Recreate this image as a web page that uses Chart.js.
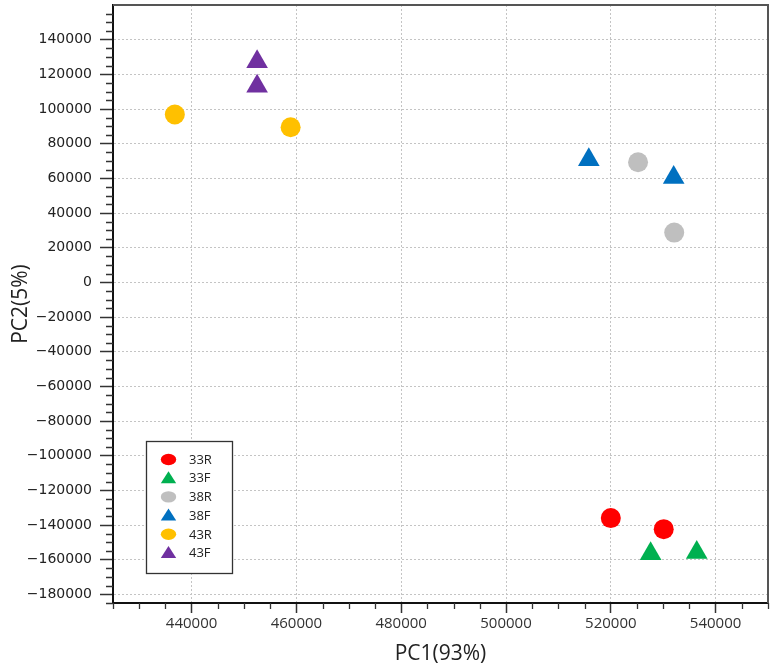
<!DOCTYPE html>
<html><head><meta charset="utf-8">
<script src="https://cdn.jsdelivr.net/npm/chart.js@4/dist/chart.umd.min.js"></script>
<style>html,body{margin:0;padding:0;background:#fff}#wrap{width:773px;height:669px}</style>
</head><body><div id="wrap"><canvas id="c" width="773" height="669"></canvas></div>
<script>
// ---- data ----
const seriesNames  = ['33R', '33F', '38R', '38F', '43R', '43F'];
const seriesColors = ['#ff0000', '#00b050', '#bfbfbf', '#0070c0', '#ffc000', '#7030a0'];
const seriesShapes = ['circle', 'triangle', 'circle', 'triangle', 'circle', 'triangle'];

const pc1_33R = [520000, 530100];
const pc2_33R = [-136000, -142400];
const pc1_33F = [527600, 536400];
const pc2_33F = [-156600, -155900];
const pc1_38R = [525200, 532100];
const pc2_38R = [69300, 28700];
const pc1_38F = [515800, 532000];
const pc2_38F = [70700, 60500];
const pc1_43R = [436800, 458900];
const pc2_43R = [96800, 89500];
const pc1_43F = [452500, 452500];
const pc2_43F = [127300, 113100];

const pc1Values = [pc1_33R, pc1_33F, pc1_38R, pc1_38F, pc1_43R, pc1_43F];
const pc2Values = [pc2_33R, pc2_33F, pc2_38R, pc2_38F, pc2_43R, pc2_43F];

const xTickValues = [440000, 460000, 480000, 500000, 520000, 540000];
const yTickValues = [140000, 120000, 100000, 80000, 60000, 40000, 20000, 0, -20000, -40000, -60000,
                     -80000, -100000, -120000, -140000, -160000, -180000];
const xRange = [425000, 550000];
const yRange = [-185000, 160000];
const minorStep = 5000;
const xTitle = 'PC1(93%)';
const yTitle = 'PC2(5%)';

// ---- chart ----
const fmt = v => v < 0 ? '\u2212' + Math.abs(v) : String(v);

const datasets = seriesNames.map((name, i) => ({
  label: name,
  data: pc1Values[i].map((x, j) => ({x: x, y: pc2Values[i][j]})),
  backgroundColor: seriesColors[i],
  borderWidth: 0,
  pointStyle: seriesShapes[i],
  pointRadius: seriesShapes[i] === 'triangle' ? 12.5 : 10,
  pointHoverRadius: seriesShapes[i] === 'triangle' ? 12.5 : 10
}));

const decorPlugin = {
  id: 'decor',
  afterDraw(chart) {
    const {ctx, chartArea: a, scales: {x, y}} = chart;
    ctx.save();
    // minor ticks
    ctx.strokeStyle = '#333';
    ctx.lineWidth = 1.3;
    ctx.beginPath();
    for (let v = Math.ceil(xRange[0] / minorStep) * minorStep; v <= xRange[1]; v += minorStep) {
      if (v % 20000 === 0) continue;
      const px = Math.round(x.getPixelForValue(v)) + 0.5;
      ctx.moveTo(px, a.bottom); ctx.lineTo(px, a.bottom + 6);
    }
    for (let v = Math.ceil(yRange[0] / minorStep) * minorStep; v <= yRange[1]; v += minorStep) {
      if (v % 20000 === 0) continue;
      const py = Math.round(y.getPixelForValue(v)) + 0.5;
      ctx.moveTo(a.left - 7, py); ctx.lineTo(a.left, py);
    }
    ctx.stroke();
    // top & right frame
    ctx.strokeStyle = '#555';
    ctx.lineWidth = 2;
    ctx.beginPath();
    ctx.moveTo(a.left, a.top); ctx.lineTo(a.right, a.top); ctx.lineTo(a.right, a.bottom);
    ctx.stroke();
    // legend
    const bx = a.left + 33, by = a.bottom - 162, bw = 86, bh = 132;
    ctx.fillStyle = '#fff';
    ctx.fillRect(bx, by, bw, bh);
    ctx.strokeStyle = '#333';
    ctx.lineWidth = 1.3;
    ctx.strokeRect(bx + 0.5, by + 0.5, bw, bh);
    ctx.font = '13px "Open Sans"';
    ctx.textBaseline = 'middle';
    ctx.textAlign = 'left';
    chart.data.datasets.forEach((ds, i) => {
      const cy = by + 18.5 + i * 18.7;
      const cx = bx + 22.5;
      ctx.fillStyle = ds.backgroundColor;
      ctx.beginPath();
      if (ds.pointStyle === 'triangle') {
        ctx.moveTo(cx, cy - 7); ctx.lineTo(cx + 7.7, cy + 5); ctx.lineTo(cx - 7.7, cy + 5); ctx.closePath();
      } else {
        ctx.ellipse(cx, cy, 7.7, 5.7, 0, 0, Math.PI * 2);
      }
      ctx.fill();
      ctx.fillStyle = '#222';
      ctx.fillText(ds.label, bx + 43, cy + 0.5);
    });
    ctx.restore();
  }
};

const gridCommon = {
  color: '#c4c4c4',
  lineWidth: 1,
  tickColor: '#333',
  tickWidth: 1.5,
  tickBorderDash: []
};

new Chart(document.getElementById('c'), {
  type: 'scatter',
  data: {datasets},
  options: {
    responsive: false,
    animation: false,
    events: [],
    layout: {autoPadding: false, padding: {top: 5, right: 5, left: 0, bottom: 0}},
    plugins: {legend: {display: false}, tooltip: {enabled: false}},
    scales: {
      x: {
        type: 'linear',
        min: xRange[0], max: xRange[1],
        afterBuildTicks: s => { s.ticks = xTickValues.map(v => ({value: v})); },
        afterFit: s => { s.height = 66; s.paddingLeft = 0; s.paddingRight = 0; },
        grid: Object.assign({}, gridCommon, {tickLength: 10}),
        border: {color: '#111', width: 2, dash: [2, 2]},
        ticks: {
          callback: v => fmt(v),
          color: '#333',
          font: {family: '"Open Sans"', size: 15},
          padding: 2,
          maxRotation: 0, autoSkip: false
        },
        title: {
          display: true, text: xTitle, color: '#222',
          font: {family: '"Open Sans"', size: 21},
          padding: {top: 0, bottom: 2}
        }
      },
      y: {
        type: 'linear',
        min: yRange[0], max: yRange[1],
        afterBuildTicks: s => { s.ticks = yTickValues.slice().reverse().map(v => ({value: v})); },
        afterFit: s => { s.width = 113; s.paddingTop = 0; s.paddingBottom = 0; },
        grid: Object.assign({}, gridCommon, {tickLength: 13}),
        border: {color: '#111', width: 2, dash: [2, 2]},
        ticks: {
          callback: v => fmt(v),
          color: '#222',
          font: {family: '"DejaVu Sans"', size: 14},
          padding: 8,
          autoSkip: false
        },
        title: {
          display: true, text: yTitle, color: '#222',
          font: {family: '"Open Sans"', size: 21},
          padding: {top: 8, bottom: 0}
        }
      }
    }
  },
  plugins: [decorPlugin]
});
</script>
</body></html>
